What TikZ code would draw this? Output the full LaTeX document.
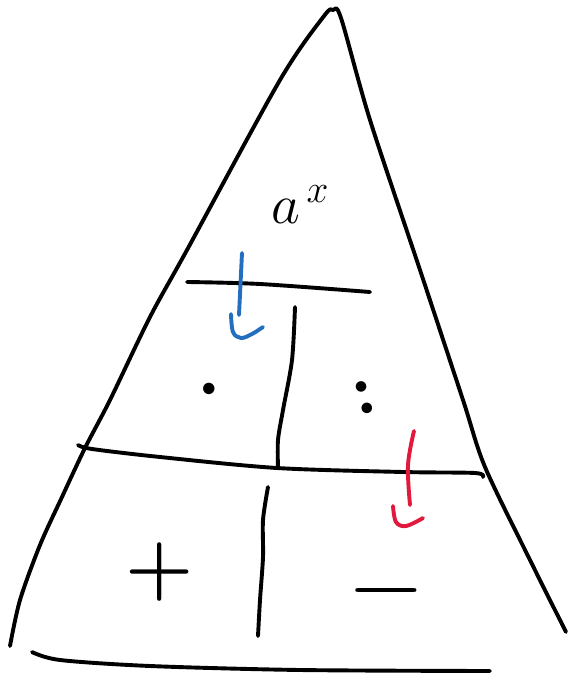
\RequirePackage{fix-cm}
\documentclass[tikz,border=0pt]{standalone}
\usepackage{amsmath}
\usepackage{xcolor}
\usepackage{tikz}
\usetikzlibrary{positioning}
\definecolor{penblue}{RGB}{35,110,190}
\definecolor{penred}{RGB}{225,25,60}

\begin{document}
\begin{tikzpicture}[x=1pt, y=-1pt,
        ink/.style={draw=black, line width=3.9pt, line cap=round, line join=round},
        bluepen/.style={draw=penblue, line width=3.9pt, line cap=round, line join=round},
        redpen/.style={draw=penred, line width=3.9pt, line cap=round, line join=round},
        sign/.style={inner sep=0pt, font=\fontsize{78}{78}\selectfont\boldmath},
        dotsign/.style={inner sep=0pt, font=\fontsize{74}{74}\selectfont\boldmath}
    ]
        \useasboundingbox (0,0) rectangle (569,680);
        % outline of the triangle
        \draw [ink] plot [smooth, tension=0.5] coordinates {(10,646) (20,600) (40,545) (62,497) (85,448) (110,400) (150,317) (187,250) (280,80) (324,16) (333,10) (341,18) (370,120) (420,270) (463,400) (485,467) (530,560) (566,632)};
        \draw [ink] plot [smooth, tension=0.5] coordinates {(32,652) (60,660) (150,666) (300,670) (490,671)};
        % levels
        \draw [ink] plot [smooth, tension=0.5] coordinates {(187,282) (260,284) (370,292)};
        \draw [ink] plot [smooth, tension=0.5] coordinates {(78,445) (92,449) (160,457) (277,468) (403,472) (475,473) (483,477)};
        \draw [ink] plot [smooth, tension=0.5] coordinates {(295,307) (292,360) (283,410) (278,440) (278,467)};
        \draw [ink] plot [smooth, tension=0.5] coordinates {(268,487) (263,520) (263,557) (260,600) (258,636)};
        % hooks
        \draw [bluepen] (242,253) -- (239,315);
        \draw [bluepen] plot [smooth, tension=0.6] coordinates {(231,314) (233,332) (241,338) (252,334) (263,327)};
        \draw [redpen] plot [smooth, tension=0.6] coordinates {(414,431) (408,465) (410,505)};
        \draw [redpen] plot [smooth, tension=0.6] coordinates {(393,506) (396,522) (406,526) (423,518)};
        % operations
        \node (power) [anchor=base, inner sep=0pt, font=\fontsize{56}{56}\selectfont] at (300,223) {$a^{\,x}$};
        \node (times) [dotsign] at (209,390) {$\cdot$};
        \node (divide) [dotsign, rotate=15] at (364,398) {$:$};
        \node (plus) [sign] at (160,572) {$+$};
        \node (minus) [inner sep=0pt, font=\fontsize{100}{100}\selectfont] at (386,590) {$-$};
    \end{tikzpicture}
\end{document}
